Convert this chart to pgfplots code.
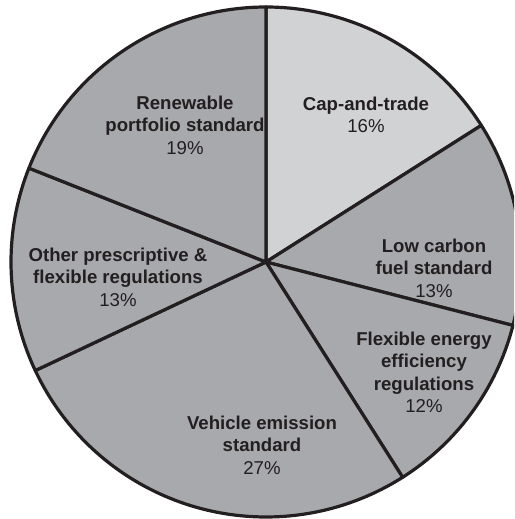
\documentclass[border=0pt]{standalone}
\usepackage{pgfplots}
\pgfplotsset{compat=1.18}
\usepackage{pgfplotstable}
\usepackage{fontspec}
\setmainfont{Liberation Sans}
\definecolor{lightw}{HTML}{D1D2D4}
\definecolor{midw}{HTML}{A7A9AC}
\definecolor{ink}{HTML}{231F20}
% shares (percent), clockwise from 12 o'clock
\pgfplotstableread[col sep=comma]{
name,value
Cap-and-trade,16
Low carbon fuel standard,13
Flexible energy efficiency regulations,12
Vehicle emission standard,27
Other prescriptive and flexible regulations,13
Renewable portfolio standard,19
}\sharetable
\pgfplotsset{pieslice/.style={draw=ink,line width=1.6pt,line join=round,samples=90,variable=\tt}}
\begin{document}
\begin{tikzpicture}
\pgfplotstablegetelem{0}{value}\of\sharetable\let\vA\pgfplotsretval
\pgfplotstablegetelem{1}{value}\of\sharetable\let\vB\pgfplotsretval
\pgfplotstablegetelem{2}{value}\of\sharetable\let\vC\pgfplotsretval
\pgfplotstablegetelem{3}{value}\of\sharetable\let\vD\pgfplotsretval
\pgfplotstablegetelem{4}{value}\of\sharetable\let\vE\pgfplotsretval
\pgfplotstablegetelem{5}{value}\of\sharetable\let\vF\pgfplotsretval
\pgfmathsetmacro\angA{90}
\pgfmathsetmacro\angB{\angA-3.6*\vA}
\pgfmathsetmacro\angC{\angB-3.6*\vB}
\pgfmathsetmacro\angD{\angC-3.6*\vC}
\pgfmathsetmacro\angE{\angD-3.6*\vD}
\pgfmathsetmacro\angF{\angE-3.6*\vE}
\pgfmathsetmacro\angG{\angF-3.6*\vF}
\begin{axis}[scale only axis, width=257pt, height=259.5pt,
  xmin=0, xmax=514, ymin=0, ymax=519, ticks=none, axis line style={draw=none}, clip=true]
\path (axis cs:0,0) rectangle (axis cs:514,519);
\addplot[pieslice,fill=lightw,domain=\angB:\angA] ({266+255*cos(\tt)},{257+255*sin(\tt)}) -- (axis cs:266,257) -- cycle;
\addplot[pieslice,fill=midw,domain=\angC:\angB] ({266+255*cos(\tt)},{257+255*sin(\tt)}) -- (axis cs:266,257) -- cycle;
\addplot[pieslice,fill=midw,domain=\angD:\angC] ({266+255*cos(\tt)},{257+255*sin(\tt)}) -- (axis cs:266,257) -- cycle;
\addplot[pieslice,fill=midw,domain=\angE:\angD] ({266+255*cos(\tt)},{257+255*sin(\tt)}) -- (axis cs:266,257) -- cycle;
\addplot[pieslice,fill=midw,domain=\angF:\angE] ({266+255*cos(\tt)},{257+255*sin(\tt)}) -- (axis cs:266,257) -- cycle;
\addplot[pieslice,fill=midw,domain=\angG:\angF] ({266+255*cos(\tt)},{257+255*sin(\tt)}) -- (axis cs:266,257) -- cycle;
\tikzset{lab/.style={align=center, text=ink, font=\fontsize{9.3}{11.25}\selectfont, inner sep=0pt}}
\node[lab] at (axis cs:366,{519-115}) {\textbf{Cap-and-trade}\\16\%};
\node[lab] at (axis cs:434,{519-268}) {\textbf{Low carbon}\\\textbf{fuel standard}\\13\%};
\node[lab] at (axis cs:424,{519-372.5}) {\textbf{Flexible energy}\\\textbf{efficiency}\\\textbf{regulations}\\12\%};
\node[lab] at (axis cs:262,{519-445}) {\textbf{Vehicle emission}\\\textbf{standard}\\27\%};
\node[lab] at (axis cs:118,{519-277}) {\textbf{Other prescriptive \&}\\\textbf{flexible regulations}\\13\%};
\node[lab] at (axis cs:185,{519-125}) {\textbf{Renewable}\\\textbf{portfolio standard}\\19\%};
\end{axis}
\end{tikzpicture}
\end{document}
